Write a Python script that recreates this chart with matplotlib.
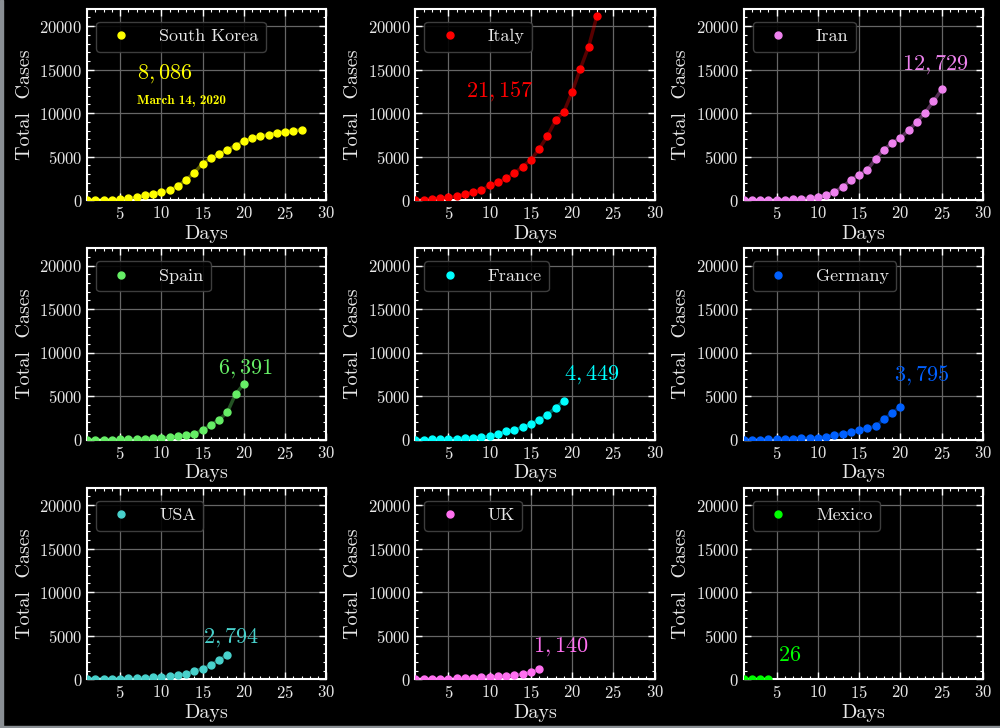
import numpy as np
import matplotlib
matplotlib.use('Agg')
import matplotlib.pyplot as plt
from matplotlib.ticker import AutoMinorLocator, MultipleLocator
from matplotlib.patches import Rectangle

# casos totales por dia, hasta el 14 de marzo de 2020
south_korea = [28, 30, 31, 51, 104, 204, 346, 556, 763, 893, 1146, 1595, 2337, 3150,
               4212, 4812, 5328, 5766, 6284, 6767, 7134, 7382, 7513, 7755, 7869, 7979, 8086]
italy = [20, 62, 155, 229, 322, 453, 655, 888, 1128, 1694, 2036, 2502, 3089, 3858,
         4636, 5883, 7375, 9172, 10149, 12462, 15113, 17660, 21157]
iran = [2, 5, 18, 28, 43, 61, 95, 139, 245, 388, 593, 978, 1501, 2336, 2922, 3513,
        4747, 5823, 6566, 7161, 8042, 9000, 10075, 11364, 12729]
spain = [2, 6, 13, 15, 32, 45, 84, 120, 165, 222, 259, 374, 500, 673, 1073, 1695,
         2277, 3146, 5232, 6391]
france = [14, 18, 38, 57, 100, 130, 191, 204, 285, 377, 653, 949, 1126, 1412, 1784,
          2281, 2876, 3661, 4449]
germany = [16, 18, 21, 26, 53, 66, 117, 150, 188, 240, 349, 534, 684, 847, 1112,
           1296, 1567, 2369, 3062, 3795]
usa = [60, 60, 62, 70, 76, 101, 122, 153, 200, 262, 346, 461, 605, 950, 1200, 1615,
       2192, 2794]
uk = [20, 23, 36, 40, 51, 85, 115, 163, 206, 273, 321, 382, 456, 590, 798, 1140]
mexico = [8, 12, 16, 26]

countries = ['South Korea', 'Italy', 'Iran', 'Spain', 'France', 'Germany', 'USA', 'UK', 'Mexico']
series = [south_korea, italy, iran, spain, france, germany, usa, uk, mexico]
colors = ['#ffff00', '#ff0000', '#ee82ee', '#66ee66', '#00ffff', '#0060ff',
          '#48d1cc', '#ff70f0', '#00ff00']

# donde va el numero final de cada pais (x, y de la linea base)
label_pos = [(7.1, 14000), (7.1, 11850), (20.2, 14950), (16.9, 7650), (19, 6850),
             (19.2, 6750), (15, 4200), (15.2, 3150), (5.1, 2100)]
labels = [r'$8,086$', r'$21,157$', r'$12,729$', r'$6,391$', r'$4,449$', r'$3,795$',
          r'$2,794$', r'$1,140$', r'$26$']

plt.rcParams['font.family'] = 'serif'
plt.rcParams['font.serif'] = ['cmr10']
plt.rcParams['mathtext.fontset'] = 'cm'
plt.rcParams['axes.formatter.use_mathtext'] = True

fig, axs = plt.subplots(3, 3, figsize=(10, 7.28), dpi=100, facecolor='black')
fig.subplots_adjust(left=0.087, right=0.983, top=0.988, bottom=0.067, wspace=0.372, hspace=0.251)

for i, ax in enumerate(axs.flat):
    y = np.array(series[i])
    x = np.arange(1, len(y) + 1)
    c = colors[i]
    ax.set_facecolor('black')
    ax.plot(x, y, '-', color=c, alpha=0.35, lw=2.5, zorder=2)
    ax.plot(x, y, 'o', color=c, ms=5, label=countries[i], zorder=3)
    ax.set_xlim(1, 30)
    ax.set_ylim(0, 22000)
    ax.xaxis.set_major_locator(MultipleLocator(5))
    ax.yaxis.set_major_locator(MultipleLocator(5000))
    ax.xaxis.set_minor_locator(AutoMinorLocator(5))
    ax.yaxis.set_minor_locator(AutoMinorLocator(5))
    ax.tick_params(which='both', direction='in', top=True, right=True, colors='white',
                   labelsize=12, labelcolor='#e8e8e8')
    ax.tick_params(which='major', length=5, width=1)
    ax.tick_params(which='minor', length=2.5, width=0.8)
    for s in ax.spines.values():
        s.set_color('white')
        s.set_linewidth(1.5)
    ax.grid(True, color='#666666', lw=0.9)
    ax.set_axisbelow(True)
    ax.set_xlabel('Days', fontsize=14.5, color='#e8e8e8', labelpad=2)
    ax.set_ylabel('Total  Cases', fontsize=14.5, color='#e8e8e8')
    leg = ax.legend(loc='upper left', bbox_to_anchor=(0, 0.98), fontsize=13, handletextpad=1.1,
                    facecolor='black', edgecolor='#444444', framealpha=0.9)
    for t in leg.get_texts():
        t.set_color('#e8e8e8')
    ax.text(label_pos[i][0], label_pos[i][1], labels[i], color=c, fontsize=16,
            ha='left', va='baseline')

axs[0, 0].text(7.1, 11000, 'March 14, 2020', family='cmb10', color=colors[0], fontsize=9.5,
               ha='left', va='baseline')

# borde gris de la captura
fig.add_artist(Rectangle((0, 0), 0.003, 1, transform=fig.transFigure, color='#8a8f94', zorder=10))
fig.add_artist(Rectangle((0, 0), 1, 0.003, transform=fig.transFigure, color='#8a8f94', zorder=10))

fig.savefig('out.png', dpi=100, facecolor='black')
